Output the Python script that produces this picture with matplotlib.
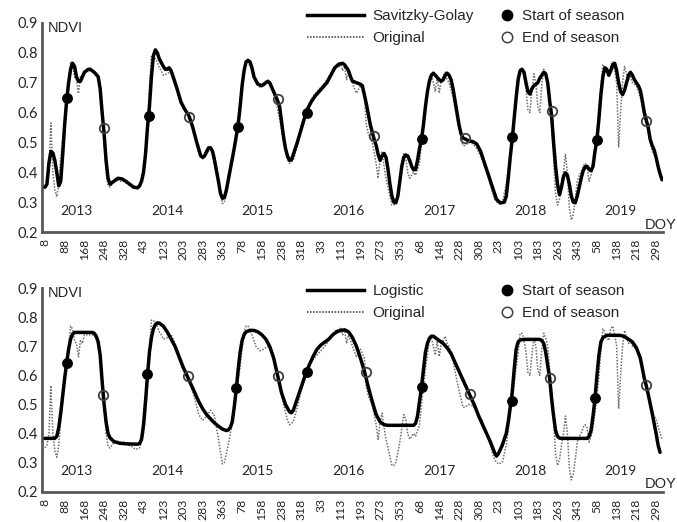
import numpy as np
import matplotlib
matplotlib.use("Agg")
import matplotlib.pyplot as plt
from matplotlib.lines import Line2D

# composite index (8-day steps from DOY 8, 2013) -> NDVI
original = [
    (0, 0.35), (1, 0.36), (2, 0.40), (3, 0.565), (4, 0.40), (5, 0.34), (6, 0.318), (7, 0.36),
    (8, 0.45), (10, 0.58), (12, 0.70), (13, 0.77), (14, 0.76), (15, 0.72), (16, 0.71), (17, 0.664),
    (18, 0.72), (19, 0.71), (20, 0.74), (22, 0.74), (24, 0.74), (26, 0.73), (27, 0.72), (28, 0.68),
    (29, 0.60), (30, 0.50), (31, 0.40), (32, 0.355), (33, 0.35), (34, 0.36), (36, 0.375), (38, 0.37),
    (40, 0.37), (42, 0.36), (44, 0.355), (46, 0.345), (48, 0.35), (50, 0.40), (51, 0.46), (52, 0.56),
    (53, 0.68), (54, 0.79), (55, 0.79), (56, 0.78), (57, 0.77), (58, 0.75), (59, 0.74), (60, 0.725),
    (62, 0.73), (64, 0.74), (66, 0.71), (68, 0.66), (70, 0.62), (72, 0.60), (74, 0.57), (76, 0.52),
    (78, 0.465), (80, 0.445), (82, 0.46), (84, 0.48), (86, 0.46), (88, 0.38), (90, 0.295), (91, 0.30),
    (93, 0.36), (95, 0.44), (97, 0.53), (99, 0.63), (101, 0.75), (102, 0.77), (103, 0.77), (105, 0.74),
    (107, 0.70), (109, 0.685), (111, 0.69), (113, 0.70), (115, 0.69), (117, 0.64), (119, 0.58),
    (121, 0.50), (123, 0.445), (124, 0.43), (126, 0.44), (128, 0.49), (130, 0.55), (132, 0.59),
    (134, 0.63), (136, 0.655), (138, 0.67), (140, 0.685), (142, 0.70), (144, 0.72), (146, 0.74),
    (148, 0.76), (149, 0.75), (150, 0.765), (151, 0.74), (152, 0.755), (153, 0.71), (154, 0.74),
    (156, 0.70), (157, 0.68), (158, 0.665), (160, 0.69), (162, 0.66), (163, 0.56), (164, 0.53),
    (166, 0.50), (168, 0.43), (169, 0.38), (170, 0.44), (171, 0.47), (172, 0.42), (173, 0.38),
    (175, 0.32), (176, 0.29), (177, 0.29), (178, 0.30), (180, 0.37), (182, 0.465), (183, 0.45),
    (184, 0.40), (185, 0.38), (186, 0.39), (187, 0.40), (188, 0.39), (190, 0.43), (191, 0.50),
    (193, 0.62), (195, 0.72), (196, 0.73), (197, 0.70), (198, 0.67), (199, 0.72), (200, 0.665),
    (201, 0.71), (202, 0.72), (203, 0.735), (204, 0.71), (205, 0.70), (207, 0.65), (209, 0.58),
    (211, 0.52), (212, 0.49), (213, 0.49), (215, 0.50), (217, 0.495), (219, 0.48), (222, 0.44),
    (225, 0.38), (228, 0.31), (230, 0.295), (232, 0.30), (234, 0.36), (236, 0.46), (238, 0.57),
    (240, 0.68), (241, 0.745), (242, 0.745), (243, 0.72), (244, 0.68), (245, 0.61), (246, 0.60),
    (247, 0.67), (248, 0.73), (249, 0.70), (250, 0.62), (251, 0.60), (252, 0.69), (253, 0.745),
    (254, 0.73), (255, 0.70), (256, 0.62), (257, 0.55), (258, 0.45), (259, 0.33), (260, 0.29),
    (261, 0.31), (262, 0.36), (263, 0.40), (264, 0.46), (265, 0.40), (266, 0.28), (267, 0.24),
    (268, 0.26), (269, 0.31), (270, 0.37), (271, 0.39), (272, 0.40), (273, 0.42), (274, 0.43),
    (275, 0.42), (276, 0.37), (277, 0.39), (278, 0.42), (279, 0.47), (280, 0.53), (281, 0.60),
    (282, 0.69), (283, 0.76), (284, 0.75), (285, 0.73), (286, 0.72), (287, 0.76), (288, 0.77),
    (289, 0.74), (290, 0.70), (291, 0.485), (292, 0.60), (293, 0.70), (294, 0.755), (295, 0.73),
    (296, 0.71), (297, 0.72), (298, 0.70), (300, 0.69), (302, 0.65), (304, 0.59), (306, 0.54),
    (308, 0.47), (310, 0.45), (312, 0.40), (313, 0.38),
]

savgol = [
    (0, 0.35), (1, 0.36), (2, 0.43), (3, 0.47), (4, 0.465), (5, 0.44), (6, 0.40), (7, 0.355),
    (8, 0.37), (9, 0.46), (10, 0.56), (11, 0.64), (12, 0.70), (13, 0.745), (14, 0.765), (15, 0.755),
    (16, 0.72), (17, 0.705), (18, 0.705), (19, 0.72), (20, 0.735), (22, 0.745), (23, 0.745),
    (25, 0.735), (27, 0.72), (28, 0.68), (29, 0.60), (30, 0.53), (31, 0.44), (32, 0.38), (33, 0.36),
    (35, 0.37), (37, 0.38), (39, 0.378), (41, 0.37), (43, 0.36), (45, 0.35), (47, 0.348), (48, 0.355),
    (49, 0.37), (50, 0.40), (51, 0.46), (52, 0.55), (53, 0.62), (54, 0.72), (55, 0.79), (56, 0.81),
    (57, 0.80), (58, 0.78), (60, 0.755), (61, 0.745), (62, 0.745), (63, 0.75), (64, 0.74), (65, 0.72),
    (67, 0.68), (69, 0.635), (71, 0.61), (73, 0.59), (75, 0.55), (77, 0.50), (79, 0.455), (80, 0.45),
    (81, 0.455), (82, 0.47), (83, 0.482), (84, 0.482), (85, 0.47), (86, 0.44), (88, 0.37), (89, 0.33),
    (90, 0.313), (91, 0.315), (92, 0.34), (94, 0.41), (96, 0.48), (98, 0.56), (99, 0.62), (100, 0.69),
    (101, 0.74), (102, 0.77), (103, 0.775), (104, 0.77), (105, 0.75), (106, 0.72), (108, 0.695),
    (110, 0.69), (112, 0.70), (113, 0.705), (114, 0.70), (116, 0.67), (118, 0.64), (119, 0.62),
    (120, 0.57), (121, 0.52), (122, 0.48), (123, 0.455), (124, 0.44), (125, 0.442), (126, 0.46),
    (128, 0.50), (130, 0.545), (132, 0.59), (133, 0.61), (135, 0.635), (137, 0.655), (139, 0.67),
    (141, 0.685), (143, 0.70), (145, 0.725), (147, 0.75), (149, 0.762), (151, 0.765), (152, 0.76),
    (153, 0.75), (154, 0.74), (155, 0.72), (156, 0.705), (158, 0.70), (160, 0.695), (161, 0.69),
    (163, 0.63), (165, 0.56), (167, 0.51), (168, 0.49), (169, 0.46), (170, 0.44), (171, 0.455),
    (172, 0.463), (173, 0.45), (174, 0.41), (175, 0.36), (176, 0.32), (177, 0.30), (178, 0.298),
    (179, 0.32), (180, 0.37), (181, 0.42), (182, 0.45), (183, 0.458), (184, 0.455), (185, 0.44),
    (186, 0.42), (187, 0.408), (188, 0.41), (189, 0.44), (190, 0.48), (191, 0.51), (192, 0.56),
    (193, 0.62), (194, 0.67), (195, 0.705), (196, 0.725), (197, 0.732), (198, 0.725), (200, 0.71),
    (201, 0.705), (202, 0.71), (203, 0.725), (204, 0.732), (205, 0.725), (206, 0.71), (207, 0.68),
    (208, 0.64), (209, 0.60), (210, 0.56), (211, 0.53), (212, 0.515), (213, 0.512), (215, 0.505),
    (217, 0.503), (219, 0.495), (221, 0.47), (223, 0.43), (225, 0.39), (227, 0.35), (229, 0.31),
    (231, 0.297), (233, 0.30), (234, 0.32), (235, 0.38), (236, 0.45), (237, 0.51), (238, 0.58),
    (239, 0.65), (240, 0.71), (241, 0.74), (242, 0.745), (243, 0.735), (244, 0.70), (245, 0.67),
    (246, 0.662), (247, 0.68), (248, 0.69), (249, 0.695), (250, 0.70), (251, 0.715), (252, 0.725),
    (253, 0.735), (254, 0.73), (255, 0.70), (256, 0.64), (257, 0.59), (258, 0.50), (259, 0.42),
    (260, 0.36), (261, 0.325), (262, 0.35), (263, 0.385), (264, 0.398), (265, 0.39), (266, 0.36),
    (267, 0.32), (268, 0.30), (269, 0.298), (270, 0.32), (271, 0.35), (272, 0.38), (273, 0.405),
    (274, 0.418), (275, 0.42), (276, 0.41), (277, 0.405), (278, 0.42), (279, 0.47), (280, 0.51),
    (281, 0.58), (282, 0.66), (283, 0.72), (284, 0.75), (285, 0.745), (286, 0.725), (287, 0.74),
    (288, 0.76), (289, 0.765), (290, 0.74), (291, 0.70), (292, 0.67), (293, 0.66), (294, 0.675),
    (295, 0.70), (296, 0.725), (297, 0.735), (298, 0.725), (299, 0.71), (300, 0.70), (301, 0.69),
    (302, 0.675), (303, 0.64), (304, 0.60), (305, 0.575), (306, 0.55), (307, 0.51), (308, 0.49),
    (309, 0.475), (310, 0.45), (311, 0.42), (312, 0.395), (313, 0.375),
]

logistic = [
    (0, 0.383), (5, 0.383), (6, 0.39), (7, 0.42), (8, 0.47), (9, 0.53), (10, 0.59), (11, 0.643),
    (12, 0.69), (13, 0.725), (14, 0.742), (15, 0.748), (24, 0.748), (25, 0.745), (26, 0.735),
    (27, 0.715), (28, 0.67), (29, 0.58), (30, 0.50), (31, 0.44), (32, 0.40), (33, 0.385),
    (35, 0.372), (38, 0.366), (42, 0.364), (47, 0.363), (48, 0.365), (49, 0.38), (50, 0.43),
    (51, 0.51), (52, 0.60), (53, 0.68), (54, 0.73), (55, 0.76), (56, 0.775), (57, 0.781), (58, 0.78),
    (60, 0.77), (62, 0.75), (64, 0.725), (66, 0.70), (68, 0.665), (70, 0.63), (72, 0.60), (74, 0.57),
    (76, 0.54), (78, 0.51), (80, 0.485), (82, 0.465), (84, 0.45), (86, 0.436), (88, 0.425),
    (90, 0.415), (92, 0.41), (93, 0.412), (94, 0.42), (95, 0.44), (96, 0.49), (97, 0.55), (98, 0.62),
    (99, 0.68), (100, 0.72), (101, 0.74), (102, 0.75), (104, 0.755), (106, 0.755), (108, 0.75),
    (110, 0.74), (112, 0.725), (114, 0.70), (116, 0.66), (118, 0.60), (120, 0.54), (122, 0.50),
    (124, 0.475), (125, 0.471), (126, 0.48), (128, 0.52), (130, 0.56), (132, 0.60), (134, 0.635),
    (136, 0.665), (138, 0.69), (140, 0.705), (142, 0.715), (144, 0.725), (146, 0.74), (148, 0.75),
    (150, 0.755), (152, 0.757), (154, 0.75), (156, 0.73), (158, 0.70), (160, 0.66), (162, 0.615),
    (164, 0.56), (166, 0.51), (168, 0.465), (170, 0.44), (172, 0.43), (174, 0.428), (187, 0.428),
    (188, 0.435), (189, 0.46), (190, 0.51), (191, 0.56), (192, 0.62), (193, 0.68), (194, 0.71),
    (195, 0.728), (196, 0.735), (197, 0.735), (198, 0.73), (200, 0.72), (202, 0.71), (204, 0.695),
    (206, 0.675), (208, 0.645), (210, 0.615), (212, 0.585), (214, 0.555), (216, 0.525), (218, 0.495),
    (220, 0.46), (222, 0.43), (224, 0.40), (226, 0.37), (228, 0.335), (229, 0.322), (230, 0.33),
    (232, 0.36), (234, 0.40), (235, 0.44), (236, 0.49), (237, 0.54), (238, 0.62), (239, 0.69),
    (240, 0.715), (241, 0.722), (243, 0.724), (251, 0.724), (252, 0.72), (253, 0.71), (254, 0.68),
    (255, 0.635), (256, 0.59), (257, 0.52), (258, 0.46), (259, 0.41), (260, 0.39), (261, 0.384),
    (262, 0.383), (275, 0.383), (276, 0.39), (277, 0.41), (278, 0.46), (279, 0.52), (280, 0.60),
    (281, 0.67), (282, 0.715), (283, 0.73), (285, 0.738), (292, 0.738), (294, 0.733), (296, 0.725),
    (298, 0.715), (300, 0.695), (302, 0.66), (304, 0.59), (305, 0.565), (306, 0.535), (308, 0.47),
    (310, 0.40), (311, 0.36), (312, 0.335),
]

sos_sg = [(11, 0.65), (53, 0.59), (98, 0.55), (133, 0.60), (191, 0.51), (237, 0.517), (280, 0.508)]
eos_sg = [(30, 0.547), (73, 0.586), (118, 0.647), (167, 0.522), (213, 0.515), (257, 0.605), (305, 0.571)]
sos_log = [(11, 0.643), (52, 0.604), (97, 0.555), (133, 0.61), (191, 0.559), (237, 0.512), (279, 0.521)]
eos_log = [(29.5, 0.532), (72.5, 0.598), (118, 0.598), (162.7, 0.612), (215.5, 0.535), (256.3, 0.592), (304.8, 0.567)]

years = ["2013", "2014", "2015", "2016", "2017", "2018", "2019"]
year_pos = [16, 62, 108, 154, 200, 246, 292]

doy_labels = ["8", "88", "168", "248", "328", "43", "123", "203", "283", "363",
              "78", "158", "238", "318", "33", "113", "193", "273", "353", "68",
              "148", "228", "308", "23", "103", "183", "263", "343", "58", "138",
              "218", "298"]
doy_ticks = np.arange(len(doy_labels)) * 10

yticks = [0.2, 0.3, 0.4, 0.5, 0.6, 0.7, 0.8, 0.9]

TXT = "#262626"
SPINE = "#595959"
MS = 6.8


def xy(pairs):
    a = np.array(pairs, dtype=float)
    return a[:, 0], a[:, 1]


def panel(ax, fit, sos, eos):
    ox, oy = xy(original)
    fx, fy = xy(fit)
    ax.plot(ox, oy, color="#6e6e6e", lw=1.1, ls=(0, (1, 1)), zorder=2)
    ax.plot(fx, fy, color="black", lw=2.5, zorder=3, solid_capstyle="round")
    sx, sy = xy(sos)
    ex, ey = xy(eos)
    ax.plot(sx, sy, "o", ms=MS, mfc="black", mec="black", zorder=4)
    ax.plot(ex, ey, "o", ms=MS, mfc="none", mec="#404040", mew=1.3, zorder=4)

    ax.set_xlim(-1.5, 313.5)
    ax.set_ylim(0.2, 0.9)
    ax.set_yticks(yticks)
    ax.set_yticklabels(["%.1f" % v for v in yticks], family="Lato", fontsize=10.5, color=TXT)
    ax.set_xticks(doy_ticks)
    ax.set_xticklabels(doy_labels, rotation=90, family="Lato", fontsize=8.8, color=TXT)
    ax.tick_params(axis="both", length=0)
    ax.tick_params(axis="x", pad=5)
    ax.tick_params(axis="y", pad=3)
    for s in ["top", "right"]:
        ax.spines[s].set_visible(False)
    for s in ["left", "bottom"]:
        ax.spines[s].set_color(SPINE)
        ax.spines[s].set_linewidth(2)

    for yr, p in zip(years, year_pos):
        ax.text(p, 0.272, yr, ha="center", va="center", family="Lato", fontsize=10, color=TXT)
    ax.text(0.01, 0.975, "NDVI", transform=ax.transAxes, ha="left", va="center",
            family="Liberation Sans", fontsize=10.5, color=TXT)


def legends(fig, fit_label, ytop):
    lf = dict(family="Liberation Sans", size=11)
    h1 = [Line2D([], [], color="black", lw=2.5),
          Line2D([], [], color="#333333", lw=1.1, ls=(0, (1, 1)))]
    l1 = fig.legend(h1, [fit_label, "Original"], loc="upper left",
                    bbox_to_anchor=(307 / 677, 1 - ytop / 522), frameon=False,
                    prop=lf, handlelength=3.7, handletextpad=0.6, labelspacing=0.55,
                    borderpad=0, borderaxespad=0)
    for t in l1.get_texts():
        t.set_color(TXT)
    h2 = [Line2D([], [], ls="none", marker="o", ms=7.5, mfc="black", mec="black"),
          Line2D([], [], ls="none", marker="o", ms=7.5, mfc="none", mec="#404040", mew=1.1)]
    l2 = fig.legend(h2, ["Start of season", "End of season"], loc="upper left",
                    bbox_to_anchor=(499 / 677, 1 - ytop / 522), frameon=False,
                    prop=lf, handlelength=1.0, handletextpad=0.5, labelspacing=0.55,
                    borderpad=0, borderaxespad=0)
    for t in l2.get_texts():
        t.set_color(TXT)


fig = plt.figure(figsize=(6.77, 5.22), dpi=100)
ax1 = fig.add_axes([42 / 677, 1 - 232 / 522, 621 / 677, 209 / 522])
ax2 = fig.add_axes([42 / 677, 1 - 491.5 / 522, 621 / 677, 203.2 / 522])

panel(ax1, savgol, sos_sg, eos_sg)
panel(ax2, logistic, sos_log, eos_log)
legends(fig, "Savitzky-Golay", 9)
legends(fig, "Logistic", 284)

for yd in [225, 484]:
    fig.text(0.999, 1 - yd / 522, "DOY", ha="right", va="center",
             family="Liberation Sans", fontsize=10.5, color=TXT)

fig.savefig("out.png", dpi=100)
